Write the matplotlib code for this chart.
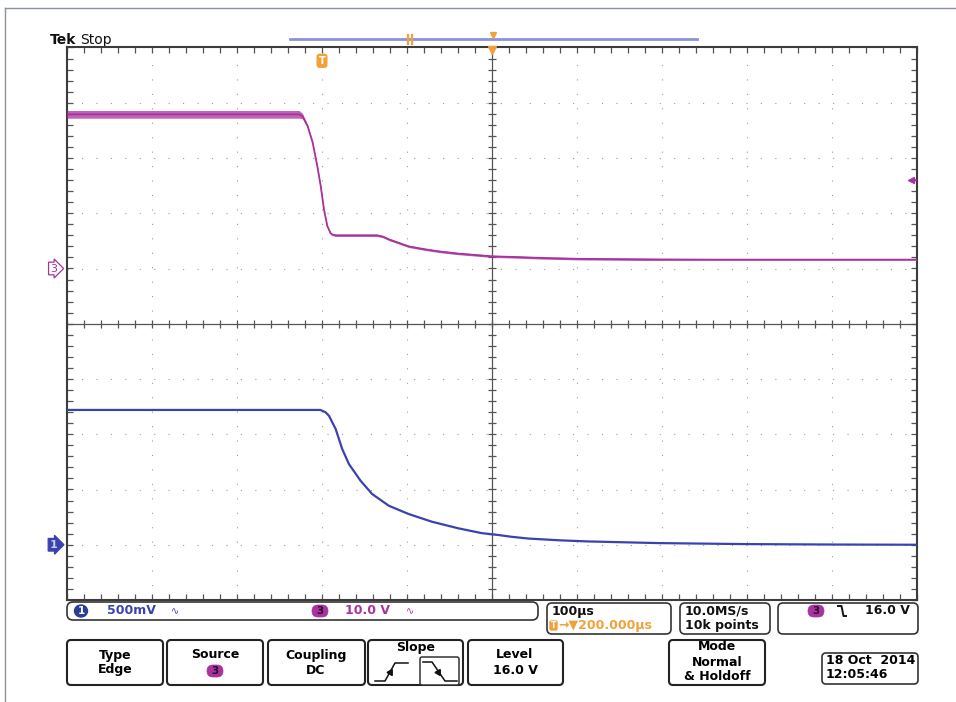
import numpy as np
import matplotlib
matplotlib.use('Agg')
import matplotlib.pyplot as plt
import matplotlib.transforms as mtransforms
from matplotlib.patches import FancyBboxPatch, Ellipse

# ---------------- data ----------------
ch3_time_us = [-300, -27, -23, -17, -11, -5.5, -1.5, 2.3, 6.2, 10, 12.1, 16, 40, 65,
               72, 79, 102, 120, 137, 160, 176, 200, 223, 260, 302, 380, 458, 550, 700]
ch3_volts = [27.9, 27.9, 27.6, 25.8, 22.8, 18.5, 14.9, 10.7, 7.7, 6.4, 6.15, 6.0,
             6.0, 6.0, 5.75, 5.25, 4.0, 3.5, 3.1, 2.7, 2.5, 2.2, 2.1, 1.9, 1.75,
             1.65, 1.6, 1.6, 1.6]
ch3_ripple_v = [0.7, 0.7, 0.5, 0.25, 0.2, 0.2, 0.2, 0.2, 0.2, 0.2, 0.2, 0.2, 0.2,
                0.2, 0.2, 0.2, 0.2, 0.2, 0.2, 0.2, 0.2, 0.2, 0.2, 0.2, 0.2, 0.2,
                0.1, 0.1, 0.1]

ch1_time_us = [-300, -2, 4, 8.2, 16.1, 23.8, 31.7, 45.4, 59, 78.6, 102, 129.5,
               160.8, 188, 207.7, 223, 243, 280, 313, 396, 497, 600, 700]
ch1_volts = [1.22, 1.22, 1.20, 1.167, 1.047, 0.866, 0.730, 0.579, 0.459, 0.353,
             0.278, 0.208, 0.148, 0.105, 0.088, 0.072, 0.056, 0.04, 0.03, 0.015,
             0.006, 0.002, 0.0]

ch1_scale_v = 0.5      # V/div
ch3_scale_v = 10.0     # V/div
ch1_pos_div = -4.0
ch3_pos_div = 1.0
time_per_div_us = 100
h_delay_us = 200.0     # time at screen centre
trigger_level_v = 16.0
n_hdiv, n_vdiv = 10, 10

ch1_label = "500mV"
ch3_label = "10.0 V"
timebase_label = "100µs"
delay_label = "→▼200.000µs"
rate_label = ["10.0MS/s", "10k points"]
trig_label = "16.0 V"
date_label = ["18 Oct  2014", "12:05:46"]

# ---------------- style ----------------
MAG = '#a8329e'
BLUE = '#3a42b0'
ORANGE = '#f2a13a'
GRIDC = '#9c9c9c'
FRAME = '#3c3c3c'
FONT = ['Liberation Sans Narrow', 'DejaVu Sans']
plt.rcParams['font.family'] = FONT

W, H = 956, 702
fig = plt.figure(figsize=(W / 100, H / 100), dpi=100)
fig.patch.set_facecolor('white')

ov = fig.add_axes([0, 0, 1, 1])
ov.set_xlim(0, W)
ov.set_ylim(H, 0)
ov.axis('off')
ov.set_zorder(0)

L, R, T, B = 67, 917, 47.5, 600
ax = fig.add_axes([L / W, 1 - B / H, (R - L) / W, (B - T) / H], facecolor='none')
ax.set_zorder(2)
t_min = h_delay_us - n_hdiv / 2 * time_per_div_us
t_max = h_delay_us + n_hdiv / 2 * time_per_div_us
ax.set_xlim(t_min, t_max)
ax.set_ylim(-n_vdiv / 2, n_vdiv / 2)

# graticule
for xv in np.arange(t_min + time_per_div_us, t_max, time_per_div_us):
    if abs(xv - h_delay_us) > 1e-6:
        ax.axvline(xv, color=GRIDC, lw=0.8, ls=(0, (1, 12)), zorder=1)
for yv in np.arange(-n_vdiv / 2 + 1, n_vdiv / 2):
    if abs(yv) > 1e-6:
        ax.axhline(yv, color=GRIDC, lw=0.8, ls=(0, (1, 12)), zorder=1)
ax.axvline(h_delay_us, color='#555555', lw=0.9, zorder=1)
ax.axhline(0, color='#555555', lw=0.9, zorder=1)
minor_t = np.arange(t_min, t_max + 1e-6, time_per_div_us / 5)
minor_v = np.arange(-n_vdiv / 2, n_vdiv / 2 + 1e-6, 0.2)
ax.plot(minor_t, np.zeros_like(minor_t), ls='none', marker='|', ms=6, mew=0.9,
        color='#555555', zorder=1)
ax.plot(np.full_like(minor_v, h_delay_us), minor_v, ls='none', marker='_', ms=6,
        mew=0.9, color='#555555', zorder=1)

ax.set_xticks(minor_t)
ax.set_yticks(minor_v)
ax.tick_params(direction='in', length=4, width=0.9, color='#555555', top=True,
               right=True, labelbottom=False, labelleft=False)
for s in ax.spines.values():
    s.set_color(FRAME)
    s.set_linewidth(1.5)

# traces
t3 = np.array(ch3_time_us)
v3 = np.array(ch3_volts)
r3 = np.array(ch3_ripple_v)
ax.fill_between(t3, (v3 - r3) / ch3_scale_v + ch3_pos_div,
                (v3 + r3) / ch3_scale_v + ch3_pos_div, color=MAG, alpha=0.75,
                lw=0, zorder=3)
ax.plot(t3, v3 / ch3_scale_v + ch3_pos_div, color=MAG, lw=1.3, zorder=4)

t1 = np.array(ch1_time_us)
v1 = np.array(ch1_volts)
ax.plot(t1, v1 / ch1_scale_v + ch1_pos_div, color=BLUE, lw=1.6, zorder=4)

# ground markers
tr_ay = mtransforms.blended_transform_factory(ax.transAxes, ax.transData)
tr_xa = mtransforms.blended_transform_factory(ax.transData, ax.transAxes)
ax.text(-0.016, ch3_pos_div, '3', transform=tr_ay, ha='center', va='center',
        color=MAG, fontsize=8, clip_on=False,
        bbox=dict(boxstyle='rarrow,pad=0.12', fc='white', ec=MAG, lw=0.9))
ax.text(-0.016, ch1_pos_div, '1', transform=tr_ay, ha='center', va='center',
        color='#c8ccf0', fontsize=8, fontweight='bold', clip_on=False,
        bbox=dict(boxstyle='rarrow,pad=0.12', fc=BLUE, ec=BLUE, lw=0.9))

# trigger level marker (right edge)
trig_div = trigger_level_v / ch3_scale_v + ch3_pos_div
ax.plot([0.9925], [trig_div], transform=tr_ay, marker='<', ms=5, color=MAG,
        clip_on=False, zorder=5)
ax.plot([0.9925, 0.999], [trig_div, trig_div], transform=tr_ay, color=MAG, lw=1.2,
        clip_on=False, zorder=5)

# trigger time marker and delay marker
ax.text(0, 0.976, 'T', transform=tr_xa, ha='center', va='center', color='white',
        fontsize=7, fontweight='bold', zorder=6,
        bbox=dict(boxstyle='round,pad=0.15,rounding_size=0.25', fc=ORANGE, ec=ORANGE))
ax.plot([h_delay_us], [0.996], transform=tr_xa, marker='v', ms=6, color=ORANGE,
        clip_on=False, zorder=6)

# ---------------- overlay decorations ----------------
# outer frame
ov.plot([5, W], [8, 8], color='#8a929c', lw=1)
ov.plot([5, 5], [8, H], color='#8a929c', lw=1)

ov.text(50, 40, 'Tek', fontsize=10, fontweight='bold', va='center', ha='left',
        color='#111111', family=['DejaVu Sans'])
ov.text(80, 40, 'Stop', fontsize=10, va='center', ha='left', color='#111111',
        family=['DejaVu Sans'])

# record overview bar
ov.plot([290, 697], [39, 39], color='#8c92d8', lw=2)
ov.plot([408.5, 408.5], [35, 44], color=ORANGE, lw=1.6)
ov.plot([412.5, 412.5], [35, 44], color=ORANGE, lw=1.6)
ov.plot([493], [35], marker='v', ms=4, color=ORANGE)


def box(x0, y0, x1, y1, lw=1.2, ec='#333333', r=4):
    p = FancyBboxPatch((x0, y0), x1 - x0, y1 - y0,
                       boxstyle=f'round,pad=0,rounding_size={r}', fc='white',
                       ec=ec, lw=lw)
    ov.add_patch(p)


def pill(x, y, txt, fc=MAG, tc='#2a0a2a', w=16, h=12):
    ov.add_patch(FancyBboxPatch((x - w / 2, y - h / 2), w, h,
                                boxstyle=f'round,pad=0,rounding_size={h/2}',
                                fc=fc, ec=fc, lw=0.5))
    ov.text(x, y, txt, ha='center', va='center', fontsize=7.5, color=tc,
            fontweight='bold')


FS = 9
# status row
box(67, 602, 538, 620, lw=1.2, r=6)
ov.add_patch(Ellipse((81, 611), 13, 12, fc='#2c3d95', ec='#2c3d95'))
ov.text(81, 611, '1', ha='center', va='center', fontsize=7.5, color='white',
        fontweight='bold')
ov.text(107, 611, ch1_label, ha='left', va='center', fontsize=FS, color=BLUE,
        fontweight='bold')
ov.text(175, 611, '∿', ha='center', va='center', fontsize=7, color=BLUE)
pill(320, 611, '3')
ov.text(345, 611, ch3_label, ha='left', va='center', fontsize=FS, color=MAG,
        fontweight='bold')
ov.text(410, 611, '∿', ha='center', va='center', fontsize=7, color=MAG)

box(547, 603, 671, 634, r=5)
ov.text(552, 611, timebase_label, ha='left', va='center', fontsize=FS,
        color='#111111', fontweight='bold')
ov.add_patch(FancyBboxPatch((550, 621), 7, 9, boxstyle='round,pad=0,rounding_size=1.5',
                            fc=ORANGE, ec=ORANGE))
ov.text(553.5, 625.5, 'T', ha='center', va='center', fontsize=5.5, color='white',
        fontweight='bold')
ov.text(558, 626, delay_label, ha='left', va='center', fontsize=FS, color=ORANGE,
        fontweight='bold')

box(680, 603, 770, 634, r=5)
ov.text(685, 611, rate_label[0], ha='left', va='center', fontsize=FS,
        color='#111111', fontweight='bold')
ov.text(685, 626, rate_label[1], ha='left', va='center', fontsize=FS,
        color='#111111', fontweight='bold')

box(778, 603, 918, 634, r=5)
pill(816, 611, '3')
ov.plot([838, 841.5, 843.5, 846], [606, 606, 616, 616], color='#111111', lw=1.4)
ov.text(910, 611, trig_label, ha='right', va='center', fontsize=FS,
        color='#111111', fontweight='bold')

# menu row
for (x0, x1) in [(67, 163), (167, 263), (268, 365), (368, 463), (468, 563), (669, 765)]:
    box(x0, 640, x1, 685, lw=1.5, ec='#222222', r=4)
ov.text(115, 655, 'Type', ha='center', va='center', fontsize=FS, fontweight='bold')
ov.text(115, 670, 'Edge', ha='center', va='center', fontsize=FS, fontweight='bold')
ov.text(215, 655, 'Source', ha='center', va='center', fontsize=FS, fontweight='bold')
pill(215, 671, '3')
ov.text(316, 655, 'Coupling', ha='center', va='center', fontsize=FS, fontweight='bold')
ov.text(316, 670, 'DC', ha='center', va='center', fontsize=FS, fontweight='bold')
ov.text(416, 648, 'Slope', ha='center', va='center', fontsize=FS, fontweight='bold')
ov.plot([375, 385, 395, 408], [681, 681, 663, 663], color='#111111', lw=1.1)
ov.plot([390], [672], marker=(3, 0, -30), ms=5, color='#111111')
ov.add_patch(FancyBboxPatch((420, 657), 39, 28, boxstyle='round,pad=0,rounding_size=2',
                            fc='white', ec='#333333', lw=1.1))
ov.plot([423, 432, 445, 457], [662, 662, 681, 681], color='#111111', lw=1.1)
ov.plot([438.5], [671.5], marker=(3, 0, 210), ms=5, color='#111111')
ov.text(515, 655, 'Level', ha='center', va='center', fontsize=FS, fontweight='bold')
ov.text(515, 670, trig_label, ha='center', va='center', fontsize=FS, fontweight='bold')
ov.text(717, 647, 'Mode', ha='center', va='center', fontsize=FS, fontweight='bold')
ov.text(717, 662, 'Normal', ha='center', va='center', fontsize=FS, fontweight='bold')
ov.text(717, 677, '& Holdoff', ha='center', va='center', fontsize=FS, fontweight='bold')

box(822, 653, 918, 684, lw=1.2, r=4)
ov.text(826, 661, date_label[0], ha='left', va='center', fontsize=FS, fontweight='bold')
ov.text(826, 675, date_label[1], ha='left', va='center', fontsize=FS, fontweight='bold')

fig.savefig('out.png', dpi=100, facecolor='white')
